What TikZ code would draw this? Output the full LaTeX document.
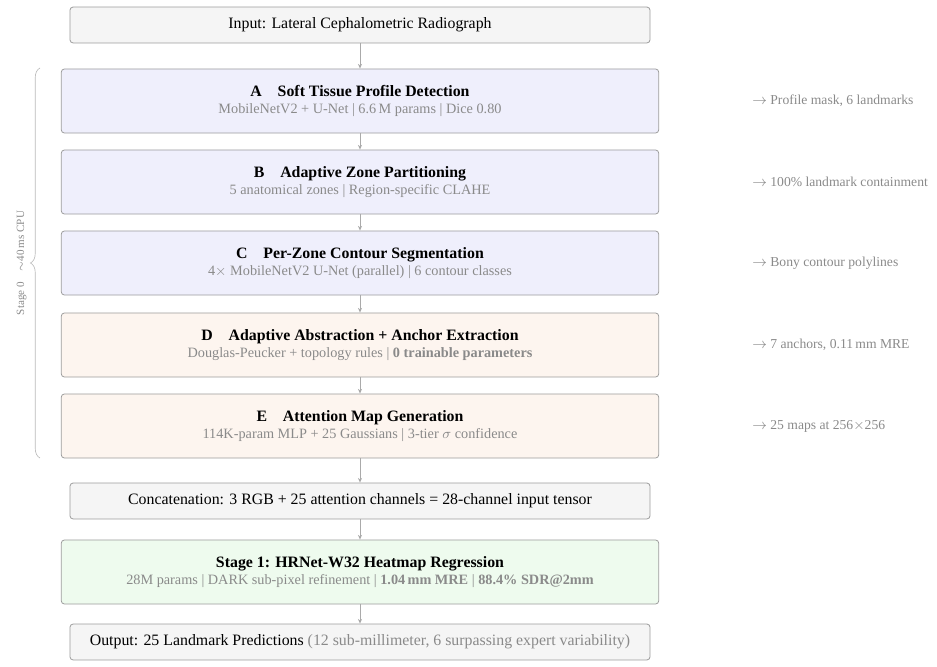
\documentclass[tikz,border=0pt]{standalone}
\usepackage{fontspec}
\setmainfont{Liberation Serif}
\usetikzlibrary{arrows.meta,decorations.pathreplacing}

\begin{document}
\begin{tikzpicture}[x=0.631pt, y=-0.631pt,
    box/.style={draw=borderColour, line width=0.5pt, rounded corners=2pt, align=center, inner sep=0pt},
    widebox/.style={box, minimum width=377pt, minimum height=40.4pt},
    slimbox/.style={box, minimum width=366pt, minimum height=22.7pt},
    flow/.style={draw=arrowColour, line width=0.5pt, -{Stealth[length=3pt, width=2.6pt]}},
    note/.style={anchor=west, inner sep=0pt, font=\fontsize{8.6}{10}\selectfont, text=noteColour}]
    % Define colours
    \definecolor{borderColour}{HTML}{9C9C9C}
    \definecolor{arrowColour}{HTML}{AAAAAA}
    \definecolor{noteColour}{HTML}{8A8A8A}
    \definecolor{greyFill}{HTML}{F5F5F5}
    \definecolor{blueFill}{HTML}{EFEFFC}
    \definecolor{peachFill}{HTML}{FDF5EF}
    \definecolor{greenFill}{HTML}{EEFBEE}

    % Define column and note positions
    \def\midX{360}
    \def\noteX{752}

    % Fix canvas
    \useasboundingbox (0,0) rectangle (937,667);

    % Input
    \node[slimbox, fill=greyFill] (input) at (\midX,25) {Input: Lateral Cephalometric Radiograph};

    % Stage 0 modules
    \node[widebox, fill=blueFill] (modA) at (\midX,101) {\textbf{A\quad Soft Tissue Profile Detection}\\[-1pt]
        {\small\color{noteColour}MobileNetV2 + U-Net \textbar{} 6.6\,M params \textbar{} Dice 0.80}};
    \node[widebox, fill=blueFill] (modB) at (\midX,182) {\textbf{B\quad Adaptive Zone Partitioning}\\[-1pt]
        {\small\color{noteColour}5 anatomical zones \textbar{} Region-specific CLAHE}};
    \node[widebox, fill=blueFill] (modC) at (\midX,263) {\textbf{C\quad Per-Zone Contour Segmentation}\\[-1pt]
        {\small\color{noteColour}4$\times$ MobileNetV2 U-Net (parallel) \textbar{} 6 contour classes}};
    \node[widebox, fill=peachFill] (modD) at (\midX,345) {\textbf{D\quad Adaptive Abstraction + Anchor Extraction}\\[-1pt]
        {\small\color{noteColour}Douglas-Peucker + topology rules \textbar{} \textbf{0 trainable parameters}}};
    \node[widebox, fill=peachFill] (modE) at (\midX,426) {\textbf{E\quad Attention Map Generation}\\[-1pt]
        {\small\color{noteColour}114K-param MLP + 25 Gaussians \textbar{} 3-tier $\sigma$ confidence}};

    % Concatenation, stage 1 and output
    \node[slimbox, fill=greyFill] (concat) at (\midX,501) {Concatenation: 3 RGB + 25 attention channels = 28-channel input tensor};
    \node[widebox, fill=greenFill] (stageOne) at (\midX,572) {\textbf{Stage 1: HRNet-W32 Heatmap Regression}\\[-1pt]
        {\small\color{noteColour}28M params \textbar{} DARK sub-pixel refinement \textbar{} \textbf{1.04\,mm MRE} \textbar{} \textbf{88.4\% SDR@2mm}}};
    \node[slimbox, fill=greyFill] (output) at (\midX,642) {Output: 25 Landmark Predictions {\color{noteColour}(12 sub-millimeter, 6 surpassing expert variability)}};

    % Connectors
    \foreach \a/\b in {input/modA, modA/modB, modB/modC, modC/modD, modD/modE, modE/concat, concat/stageOne, stageOne/output}
        \draw[flow] (\a) -- (\b);

    % Stage 0 brace
    \draw[draw=borderColour!70, line width=0.4pt, decorate, decoration={brace, amplitude=6pt}]
        (40,458) -- (40,68) node[midway, left=5pt, anchor=south, rotate=90, font=\scriptsize, text=noteColour] (stageZero) {Stage 0\quad$\sim$40\,ms CPU};

    % Notes
    \node[note] (noteA) at (\noteX,101) {$\rightarrow$\ Profile mask, 6 landmarks};
    \node[note] (noteB) at (\noteX,182) {$\rightarrow$\ 100\% landmark containment};
    \node[note] (noteC) at (\noteX,263) {$\rightarrow$\ Bony contour polylines};
    \node[note] (noteD) at (\noteX,345) {$\rightarrow$\ 7 anchors, 0.11\,mm MRE};
    \node[note] (noteE) at (\noteX,426) {$\rightarrow$\ 25 maps at 256$\times$256};

\end{tikzpicture}
\end{document}
